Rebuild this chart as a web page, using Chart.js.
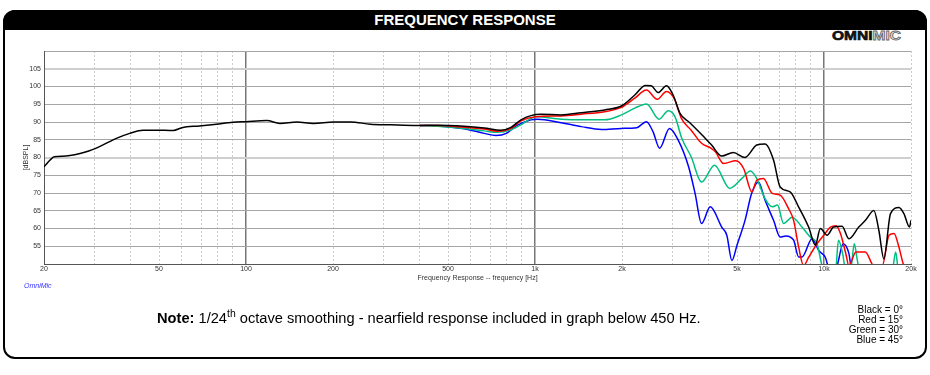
<!DOCTYPE html>
<html>
<head>
<meta charset="utf-8">
<script src="https://cdn.jsdelivr.net/npm/chart.js@4.4.1/dist/chart.umd.min.js"></script>
<style>
  body { margin: 0; width: 930px; height: 375px; background: #fff; position: relative; overflow: hidden;
         font-family: "Liberation Sans", Arial, sans-serif; }
  .frame { position: absolute; left: 3px; top: 10px; width: 924px; height: 349px; box-sizing: border-box;
           border: 2px solid #000; border-radius: 12px; }
  .head { position: absolute; left: 3px; top: 10px; width: 924px; height: 20px; background: #000;
          border-radius: 12px 12px 0 0; color: #fff; font-weight: bold; font-size: 15px; text-align: center;
          line-height: 20px; }
  .logo { position: absolute; left: 832px; top: 28px; font-size: 13.5px; font-weight: bold; line-height: 15px;
          font-family: "Liberation Sans", Arial, sans-serif; transform: scaleX(1.15); transform-origin: left top;
          color: #111; -webkit-text-stroke: 0.7px #111; }
  .logo .mic { color: #e8e8e8; -webkit-text-stroke: 0.8px #666; }
  #chart { position: absolute; left: 0; top: 0; }
  .brand { position: absolute; left: 24px; top: 282px; font-size: 7px; font-style: italic; color: #3333ff; }
  .note { position: absolute; left: 157px; top: 307px; font-size: 15.5px; color: #000; white-space: nowrap;
          transform: scaleX(0.945); transform-origin: left top; }
  .note sup { font-size: 11px; }
  .legend { position: absolute; right: 27px; top: 305px; font-size: 10px; line-height: 10px; text-align: right; color: #000; }
</style>
</head>
<body>
<div class="frame"></div>
<div class="head">FREQUENCY RESPONSE</div>
<div class="logo">OMNI<span class="mic">MIC</span></div>
<canvas id="chart" width="930" height="375"></canvas>
<div class="brand">OmniMic</div>
<div class="note"><b>Note:</b> 1/24<sup>th</sup> octave smoothing - nearfield response included in graph below 450 Hz.</div>
<div class="legend">Black = 0°<br>Red = 15°<br>Green = 30°<br>Blue = 45°</div>

<script>
// frequency response, 0 / 15 / 30 / 45 degrees (dB SPL vs Hz)
const freqBlack = [20, 21, 21.7, 23.8, 28, 31, 35.6, 39.6, 44, 49, 56, 60, 69, 79, 90, 100, 118, 131, 150, 171,
    201, 230, 269, 316, 391, 459, 569, 667, 762, 826, 894, 968, 1049, 1231, 1445, 1741, 1990, 2214, 2411, 2524,
    2667, 2850, 3006, 3170, 3433, 3770, 4084, 4426, 4855, 5330, 5851, 6253, 6688, 7050, 7636, 8166, 8848, 9333,
    9713, 10250, 10800, 11550, 12190, 13190, 13910, 14880, 15480, 16110, 16990, 18160, 18900, 19760, 20000];
const splBlack = [77.4, 79.3, 80.2, 80.4, 81.6, 83.0, 85.4, 86.8, 87.7, 87.7, 87.6, 88.4, 88.9, 89.4, 89.9, 90.1, 90.4, 89.6, 90.0, 89.6,
    90.0, 90.0, 89.4, 89.2, 89.0, 89.1, 88.8, 88.3, 87.7, 88.5, 90.6, 91.8, 92.2, 92.0, 92.6, 93.4, 94.5, 97.6, 100.3, 100.2,
    98.3, 100.2, 97.6, 92.5, 89.8, 86.5, 83.5, 80.4, 81.4, 80.0, 83.5, 83.8, 79.3, 71.7, 70.3, 66.1, 60.4, 55.3,
    60.0, 58.1, 60.4, 60.6, 57.1, 60.4, 62.3, 65.1, 59.5, 51.5, 64.2, 65.9, 64.2, 60.4, 62.3];

const freqRed = [400, 459, 569, 667, 740, 826, 894, 1008, 1231, 1445, 1741, 1990, 2214, 2430, 2650, 2850, 3050,
    3210, 3470, 3770, 4070, 4210, 4490, 4950, 5270, 5630, 5850, 6170, 6620, 7050, 7540, 7850, 8170, 8500, 8850,
    9460, 9980, 10530, 11000, 11400, 11900, 12190, 12900, 13900, 14880, 15900, 16790, 17470, 18160, 18900, 20000];
const splRed = [89.0, 89.0, 88.5, 88.0, 87.4, 88.2, 90.3, 91.5, 91.7, 92.2, 92.9, 94.1, 96.7, 99.0, 96.4, 98.6, 96.2,
    91.0, 87.7, 84.0, 82.6, 81.6, 78.3, 79.1, 76.9, 70.3, 73.6, 74.1, 69.9, 69.4, 65.6, 62.3, 54.8, 49.5, 51.9,
    55.7, 58.1, 60.4, 60.8, 58.6, 52.9, 49.5, 53.4, 53.4, 49.5, 49.5, 58.1, 58.6, 54.8, 49.5, 48];

const freqGreen = [400, 459, 569, 667, 740, 826, 894, 1008, 1231, 1445, 1741, 1990, 2214, 2430, 2690, 2890, 3050,
    3220, 3470, 3770, 4180, 4720, 5200, 5560, 5850, 6250, 6620, 6900, 7250, 7760, 8390, 8960, 9460, 9850, 10500,
    11000, 11220, 11600, 11900, 12400, 12730, 13000, 13300, 17200, 17700, 18100, 20000];
const splGreen = [89.0, 88.8, 88.2, 87.5, 87.1, 87.8, 89.2, 91.5, 90.8, 90.6, 90.6, 92.0, 93.9, 95.1, 90.8, 93.2, 91.5,
    85.4, 80.2, 73.1, 77.8, 71.3, 74.1, 76.2, 74.1, 68.4, 66.1, 66.6, 61.4, 63.2, 60.4, 57.6, 55.7, 49.5, 46,
    49, 56.7, 53, 48, 49, 55.7, 51.7, 48, 48, 53.4, 48, 46];

const freqBlue = [400, 459, 569, 667, 733, 796, 860, 968, 1020, 1231, 1445, 1700, 1990, 2250, 2430, 2560, 2700,
    2920, 3130, 3400, 3580, 3770, 4040, 4426, 4610, 4800, 5000, 5330, 5620, 5930, 6250, 6690, 7050, 7380, 7850,
    8170, 8400, 9090, 9590, 10100, 10500, 11000, 11200, 11650, 12190, 12500, 20000];
const splBlue = [89.0, 88.9, 88.1, 86.8, 86.2, 86.8, 88.9, 90.6, 90.8, 89.8, 88.7, 87.9, 88.2, 88.4, 90.1, 87.3, 82.6,
    88.2, 84.9, 77.4, 69.9, 61.4, 66.1, 60.4, 58.1, 51.0, 55.3, 62.3, 69.9, 73.1, 68.0, 62.3, 57.6, 57.9, 56.7,
    52.0, 52.0, 57.1, 53.8, 51.9, 48, 48, 50.7, 55.7, 53.0, 48, 46];

const xGrid = [20, 30, 40, 50, 60, 70, 80, 90, 100, 200, 300, 400, 500, 600, 700, 800, 900,
    1000, 2000, 3000, 4000, 5000, 6000, 7000, 8000, 9000, 10000, 20000];
const xLabels = { 20: "20", 50: "50", 100: "100", 200: "200", 500: "500", 1000: "1k", 2000: "2k",
    5000: "5k", 10000: "10k", 20000: "20k" };
const yTicks = [50, 55, 60, 65, 70, 75, 80, 85, 90, 95, 100, 105, 110];

function pts(f, v) {
    return f.map((x, i) => ({ x: x, y: v[i] }));
}

function line(data, color) {
    return {
        data: data,
        borderColor: color,
        borderWidth: 1.5,
        pointRadius: 0,
        cubicInterpolationMode: "monotone",
        fill: false
    };
}

const decades = [100, 1000, 10000];
const isDecade = c => decades.includes(c.tick && c.tick.value);
const isLight = c => c.tick && (c.tick.value === 80 || c.tick.value === 105);

new Chart(document.getElementById("chart"), {
    type: "line",
    data: {
        datasets: [
            line(pts(freqBlack, splBlack), "#000000"),
            line(pts(freqRed, splRed), "#ff0000"),
            line(pts(freqGreen, splGreen), "#00c080"),
            line(pts(freqBlue, splBlue), "#0000ff")
        ]
    },
    options: {
        responsive: false,
        animation: false,
        layout: { padding: { left: 22, top: 51, right: 19, bottom: 89 } },
        plugins: { legend: { display: false }, tooltip: { enabled: false } },
        scales: {
            x: {
                type: "logarithmic",
                min: 20,
                max: 20000,
                afterBuildTicks: s => { s.ticks = xGrid.map(v => ({ value: v })); },
                afterFit: s => { s.height = 22; },
                ticks: {
                    autoSkip: false,
                    maxRotation: 0,
                    padding: 1,
                    color: "#333",
                    font: { family: "Liberation Sans", size: 7 },
                    callback: v => xLabels[v] || ""
                },
                grid: {
                    drawTicks: false,
                    color: c => isDecade(c) ? "#777" : "#cccccc",
                    lineWidth: c => isDecade(c) ? 1.5 : 1
                },
                border: {
                    color: "#555",
                    width: 1,
                    dash: c => isDecade(c) ? [] : [2, 2]
                },
                title: {
                    display: true,
                    text: "Frequency Response -- frequency [Hz]",
                    color: "#333",
                    font: { family: "Liberation Sans", size: 7 },
                    padding: { top: 0, bottom: 4 }
                }
            },
            y: {
                min: 50,
                max: 110,
                afterBuildTicks: s => { s.ticks = yTicks.map(v => ({ value: v })); },
                afterFit: s => { s.width = 22; },
                ticks: {
                    padding: 3,
                    color: "#333",
                    font: { family: "Liberation Sans", size: 7 },
                    callback: v => (v === 50 || v === 110) ? "" : String(v)
                },
                grid: {
                    drawTicks: false,
                    color: c => isLight(c) ? "#cfcfcf" : "#a6a6a6",
                    lineWidth: c => isLight(c) ? 2 : 1
                },
                border: { color: "#555", width: 1 },
                title: {
                    display: true,
                    text: "[dBSPL]",
                    color: "#333",
                    font: { family: "Liberation Sans", size: 7 },
                    padding: { top: 0, bottom: 0 }
                }
            }
        }
    }
});
</script>
</body>
</html>
